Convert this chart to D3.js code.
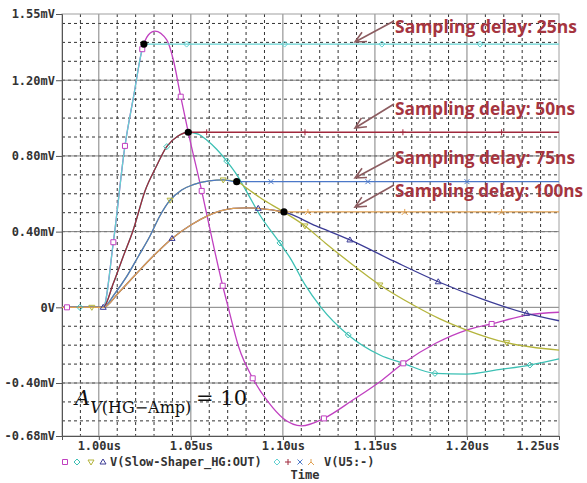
<!DOCTYPE html>
<html>
<head>
<meta charset="utf-8">
<script src="https://cdn.jsdelivr.net/npm/d3@7"></script>
<style>
  body { margin: 0; background: #fff; }
  svg { display: block; }
</style>
</head>
<body>
<div id="chart"></div>
<script>
// time in us, voltage in mV
const shaper25 = [[0.98,0],[1.0024,0],[1.0079,0.344],[1.0142,0.853],[1.0190,1.12],[1.0236,1.364],[1.0269,1.439],[1.0305,1.46],[1.0369,1.413],[1.0405,1.307],[1.0445,1.113],[1.0486,0.925],[1.0559,0.615],[1.0620,0.34],[1.0673,0.114],[1.0703,0.0],[1.0760,-0.21],[1.0836,-0.375],[1.0920,-0.50],[1.1002,-0.587],[1.1102,-0.626],[1.1223,-0.587],[1.1380,-0.49],[1.1527,-0.393],[1.1654,-0.296],[1.1830,-0.19],[1.1998,-0.12],[1.2134,-0.088],[1.2324,-0.041],[1.25,-0.026]];
const shaper50 = [[0.98,0],[1.0024,0],[1.0079,0.127],[1.0133,0.27],[1.0187,0.409],[1.0251,0.615],[1.0310,0.74],[1.0369,0.849],[1.0430,0.905],[1.0486,0.925],[1.0540,0.915],[1.0586,0.884],[1.0640,0.835],[1.0695,0.773],[1.0750,0.70],[1.0803,0.611],[1.0880,0.48],[1.0984,0.34],[1.1040,0.26],[1.1120,0.12],[1.1207,0.0],[1.1355,-0.146],[1.1527,-0.252],[1.1654,-0.296],[1.1826,-0.349],[1.1998,-0.353],[1.2161,-0.331],[1.2342,-0.305],[1.25,-0.273]];
const shaper75 = [[0.98,0],[1.0024,0],[1.0085,0.07],[1.0151,0.162],[1.0215,0.27],[1.0278,0.377],[1.0330,0.48],[1.0387,0.566],[1.0450,0.62],[1.0513,0.648],[1.0600,0.668],[1.0676,0.673],[1.0749,0.664],[1.0810,0.625],[1.0875,0.58],[1.1002,0.505],[1.1120,0.43],[1.1230,0.34],[1.1346,0.25],[1.1527,0.118],[1.1708,0.012],[1.1850,-0.06],[1.1998,-0.12],[1.2216,-0.187],[1.25,-0.226]];
const shaper100 = [[0.98,0],[1.0024,0],[1.0110,0.08],[1.0206,0.18],[1.0300,0.275],[1.0398,0.364],[1.0500,0.435],[1.0593,0.485],[1.0660,0.510],[1.0730,0.523],[1.0800,0.526],[1.0866,0.523],[1.0940,0.515],[1.1006,0.504],[1.1180,0.43],[1.1364,0.356],[1.1600,0.245],[1.1844,0.135],[1.2080,0.045],[1.2324,-0.032],[1.25,-0.071]];

const delays = ["25ns", "50ns", "75ns", "100ns"];
const sampleTimes = [1.0245, 1.0486, 1.0749, 1.1006];
const holdLevels = [1.391, 0.925, 0.664, 0.504];

// marker points along each trace
const marks25 = [[0.9827,0],[1.0079,0.344],[1.0142,0.853],[1.0236,1.364],[1.0445,1.113],[1.0559,0.615],[1.0673,0.114],[1.0836,-0.375],[1.1223,-0.587],[1.1654,-0.296],[1.2134,-0.088]];
const marks50 = [[0.9897,0],[1.0369,0.849],[1.0695,0.773],[1.0984,0.34],[1.1355,-0.146],[1.1826,-0.349],[1.2342,-0.305]];
const marks75 = [[0.9962,0],[1.0387,0.566],[1.0676,0.673],[1.1120,0.43],[1.1527,0.118],[1.2216,-0.187]];
const marks100 = [[1.0024,0],[1.0398,0.364],[1.0866,0.523],[1.1364,0.356],[1.1844,0.135],[1.2324,-0.032]];
const holdMarkTimes = [
  [1.0477, 1.1009, 1.1538, 1.2071],
  [1.0586, 1.1120, 1.1652, 1.2188],
  [1.0935, 1.1462, 1.2000],
  [1.1136, 1.1662, 1.2188]
];

const yTicks = [-0.68, -0.40, 0, 0.40, 0.80, 1.20, 1.55];
const yLabels = ["-0.68mV", "-0.40mV", "0V", "0.40mV", "0.80mV", "1.20mV", "1.55mV"];
const xTicks = [1.00, 1.05, 1.10, 1.15, 1.20, 1.25];
const xLabels = ["1.00us", "1.05us", "1.10us", "1.15us", "1.20us", "1.25us"];

const shapers = [shaper25, shaper50, shaper75, shaper100];
const shaperMarks = [marks25, marks50, marks75, marks100];
const shaperColors = ["#c040c0", "#3cc0b4", "#b4b43c", "#3c3c96"];
const holdColors = ["#64d2d2", "#a0283c", "#4c78c8", "#e0a050"];

const sym = {
  square: "M-2.5,-2.5h5v5h-5z",
  diamond: "M0,-3L3,0L0,3L-3,0Z",
  down: "M-3,-2L3,-2L0,3Z",
  up: "M-3,2L3,2L0,-3Z",
  plus: "M-3,0H3M0,-3V3",
  cross: "M-2.5,-2.5L2.5,2.5M-2.5,2.5L2.5,-2.5",
  lambda: "M0,-3V0L-3,3M0,0L3,3"
};
const shaperSym = [sym.square, sym.diamond, sym.down, sym.up];
const holdSym = [sym.diamond, sym.plus, sym.cross, sym.lambda];

const W = 587, H = 483;
const x = d3.scaleLinear().domain([0.98, 1.25]).range([62, 559]);
const y = d3.scaleLinear().domain([-0.68, 1.55]).range([436, 14]);

const svg = d3.select("#chart").append("svg")
  .attr("width", W).attr("height", H)
  .style("background", "#fff");

// minor dashed grid
const minorX = d3.range(99, 125).map(d => d / 100).filter(d => Math.round(d * 100) % 5 !== 0);
const minorY = d3.range(-6, 16).map(d => d / 10).filter(d => d % 4 !== 0);
const grid = svg.append("g");
grid.selectAll(".mx").data(minorX).enter().append("line")
  .attr("x1", d => x(d)).attr("x2", d => x(d))
  .attr("y1", y(1.55)).attr("y2", y(-0.68))
  .attr("stroke", "#333").attr("stroke-width", 1).attr("stroke-dasharray", "3,3");
grid.selectAll(".my").data(minorY).enter().append("line")
  .attr("x1", x(0.98)).attr("x2", x(1.25))
  .attr("y1", d => y(d)).attr("y2", d => y(d))
  .attr("stroke", "#333").attr("stroke-width", 1).attr("stroke-dasharray", "3,3");
// major solid grid
grid.selectAll(".Mx").data(xTicks.slice(0, -1)).enter().append("line")
  .attr("x1", d => x(d)).attr("x2", d => x(d))
  .attr("y1", y(1.55)).attr("y2", y(-0.68))
  .attr("stroke", "#808080").attr("stroke-width", 1);
grid.selectAll(".My").data(yTicks.slice(1, -1)).enter().append("line")
  .attr("x1", x(0.98)).attr("x2", x(1.25))
  .attr("y1", d => y(d)).attr("y2", d => y(d))
  .attr("stroke", "#808080").attr("stroke-width", 1);
// border
svg.append("rect")
  .attr("x", x(0.98)).attr("y", y(1.55))
  .attr("width", x(1.25) - x(0.98)).attr("height", y(-0.68) - y(1.55))
  .attr("fill", "none").attr("stroke", "#a0a0a0");

// axes
const axisFont = "'DejaVu Sans Mono', monospace";
const yAxis = svg.append("g")
  .attr("transform", `translate(${x(0.98)},0)`)
  .call(d3.axisLeft(y).tickValues(yTicks).tickFormat((d, i) => yLabels[i]).tickSize(6).tickPadding(1));
const xAxis = svg.append("g")
  .attr("transform", `translate(0,${y(-0.68)})`)
  .call(d3.axisBottom(x).tickValues(xTicks).tickFormat((d, i) => xLabels[i]).tickSize(4).tickPadding(1));
[yAxis, xAxis].forEach(a => {
  a.selectAll("path.domain").attr("stroke", "#555");
  a.selectAll(".tick line").attr("stroke", "#555");
  a.selectAll("text").attr("fill", "#333").style("font-family", axisFont)
    .style("font-size", "12px").style("font-weight", "bold");
});
xAxis.select(".tick:last-of-type text").attr("text-anchor", "end").attr("x", 0);

// traces
const line = d3.line().x(d => x(d[0])).y(d => y(d[1])).curve(d3.curveMonotoneX);
const plot = svg.append("g");
shapers.forEach((s, i) => {
  plot.append("path").datum(s)
    .attr("fill", "none").attr("stroke", shaperColors[i]).attr("stroke-width", 1.3)
    .attr("d", line);
});
const holds = shapers.map((s, i) =>
  s.filter(d => d[0] < sampleTimes[i]).concat([[sampleTimes[i], holdLevels[i]], [1.25, holdLevels[i]]]));
holds.forEach((h, i) => {
  plot.append("path").datum(h)
    .attr("fill", "none").attr("stroke", holdColors[i]).attr("stroke-width", 1.3)
    .attr("d", line);
});

// markers
shaperMarks.forEach((m, i) => {
  plot.selectAll(null).data(m).enter().append("path")
    .attr("transform", d => `translate(${x(d[0])},${y(d[1])})`)
    .attr("d", shaperSym[i])
    .attr("fill", i === 0 ? "#fff" : "none")
    .attr("stroke", shaperColors[i]).attr("stroke-width", 1);
});
holdMarkTimes.forEach((m, i) => {
  plot.selectAll(null).data(m).enter().append("path")
    .attr("transform", d => `translate(${x(d)},${y(holdLevels[i])})`)
    .attr("d", holdSym[i])
    .attr("fill", "none")
    .attr("stroke", holdColors[i]).attr("stroke-width", 1);
});

// sampling points
plot.selectAll(".dot").data(sampleTimes).enter().append("circle")
  .attr("cx", d => x(d)).attr("cy", (d, i) => y(holdLevels[i]))
  .attr("r", 3.6).attr("fill", "#000");

// annotations
const textY = [33, 115, 164, 197];
const textW = [182, 180, 180, 188];
const arrowTail = [[394, 21], [394, 104], [394, 157], [394, 185]];
const arrowTip = [[355, 42], [355, 128], [355, 178], [355, 207]];
const ann = svg.append("g");
delays.forEach((lab, i) => {
  const [x0, y0] = arrowTail[i], [x1, y1] = arrowTip[i];
  const ang = Math.atan2(y0 - y1, x0 - x1);
  const hl = 12, ha = 0.45;
  ann.append("path")
    .attr("d", `M${x0},${y0}L${x1},${y1}` +
      `M${x1 + hl * Math.cos(ang - ha)},${y1 + hl * Math.sin(ang - ha)}L${x1},${y1}` +
      `L${x1 + hl * Math.cos(ang + ha)},${y1 + hl * Math.sin(ang + ha)}`)
    .attr("fill", "none").attr("stroke", "#8c5c60").attr("stroke-width", 1.6);
  ann.append("text")
    .attr("x", 395).attr("y", textY[i])
    .attr("textLength", textW[i]).attr("lengthAdjust", "spacingAndGlyphs")
    .attr("fill", "#a5353f")
    .style("font-family", "'Open Sans', sans-serif")
    .style("font-size", "17.2px").style("font-weight", "bold")
    .text("Sampling delay: " + lab);
});

// gain formula
const math = svg.append("text")
  .attr("x", 75).attr("y", 405)
  .style("font-family", "'DejaVu Serif', serif").attr("fill", "#111");
math.append("tspan").style("font-style", "italic").style("font-size", "21px").text("A");
math.append("tspan").attr("dy", 8).style("font-style", "italic").style("font-size", "16px").text("V");
math.append("tspan").style("font-size", "16px").text("(HG\u2212Amp)");
math.append("tspan").attr("dy", -8).attr("x", 196).style("font-size", "21px").text("= 10");

// legend
const legY = 466;
const leg = svg.append("g");
const legSymX = [65, 77, 91, 103];
const legSym2X = [277, 288, 300, 311];
shaperSym.forEach((s, i) => {
  leg.append("path").attr("transform", `translate(${legSymX[i]},${legY - 4})`)
    .attr("d", s).attr("fill", "none").attr("stroke", shaperColors[i]);
});
holdSym.forEach((s, i) => {
  leg.append("path").attr("transform", `translate(${legSym2X[i]},${legY - 4})`)
    .attr("d", s).attr("fill", "none").attr("stroke", holdColors[i]);
});
const legText = [[110, "V(Slow-Shaper_HG:OUT)"], [324, "V(U5:-)"]];
legText.forEach(([lx, t]) => {
  leg.append("text").attr("x", lx).attr("y", legY)
    .attr("fill", "#333").style("font-family", axisFont)
    .style("font-size", "12px").style("font-weight", "bold").text(t);
});
leg.append("text").attr("x", 305).attr("y", 479).attr("text-anchor", "middle")
  .attr("fill", "#333").style("font-family", axisFont)
  .style("font-size", "12px").style("font-weight", "bold").text("Time");
</script>
</body>
</html>
